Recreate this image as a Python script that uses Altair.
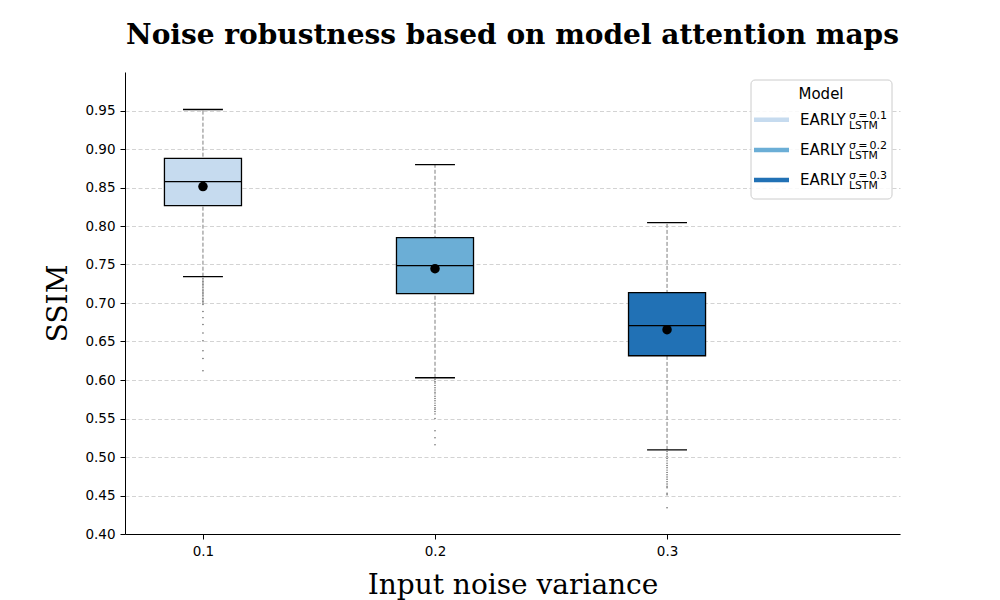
import altair as alt
import pandas as pd

# ---------------- data ----------------
noise = [0.1, 0.2, 0.3]
groups = ["s01", "s02", "s03"]
sigma_labels = ["σ\u2009=\u20090.1", "σ\u2009=\u20090.2", "σ\u2009=\u20090.3"]
colors = ["#c6dbef", "#6baed6", "#2171b5"]

q1 = [0.8265, 0.7121, 0.6315]
median = [0.8577, 0.7485, 0.6705]
q3 = [0.8877, 0.7849, 0.7134]
mean = [0.8512, 0.7446, 0.6653]
whisker_low = [0.7342, 0.6029, 0.5092]
whisker_high = [0.9513, 0.8798, 0.8044]

outliers_01 = [0.732, 0.730, 0.728, 0.726, 0.724, 0.722, 0.720, 0.718, 0.716,
               0.714, 0.712, 0.710, 0.708, 0.706, 0.704, 0.702, 0.700,
               0.698, 0.689, 0.681, 0.672, 0.661, 0.651, 0.638, 0.628, 0.612]
outliers_02 = [0.601, 0.598, 0.596, 0.593, 0.590, 0.587, 0.584, 0.582, 0.579,
               0.576, 0.573, 0.570, 0.567, 0.564, 0.562, 0.559,
               0.556, 0.550, 0.534, 0.525, 0.516]
outliers_03 = [0.507, 0.504, 0.501, 0.498, 0.495, 0.492, 0.489, 0.486, 0.483,
               0.480, 0.477, 0.474, 0.471, 0.468, 0.465, 0.462, 0.460,
               0.453, 0.451, 0.434]

y_ticks = [0.40, 0.45, 0.50, 0.55, 0.60, 0.65, 0.70, 0.75, 0.80, 0.85, 0.90, 0.95]

# ---------------- tables ----------------
stats = pd.DataFrame(dict(noise=noise, group=groups, q1=q1, median=median, q3=q3,
                          mean=mean, whisker_low=whisker_low, whisker_high=whisker_high))
out_rows = []
for n, vals in zip(noise, [outliers_01, outliers_02, outliers_03]):
    for v in vals:
        out_rows.append({"noise": n, "value": v})
out_df = pd.DataFrame(out_rows)

BOX_HALF = 0.0166
CAP_HALF = 0.0086

x_scale = alt.Scale(domain=[0.0664, 0.4004], nice=False, zero=False)
y_scale = alt.Scale(domain=[0.4, 1.0], nice=False, zero=False)

SERIF = "DejaVu Serif"
SANS = "DejaVu Sans"

x_axis = alt.Axis(values=noise, format=".1f", title="Input noise variance", grid=False,
                  titleFont=SERIF, titleFontSize=28, titleFontWeight="normal",
                  titleColor="black", titleBaseline="alphabetic", titleY=59,
                  labelFont=SANS, labelFontSize=13.5, labelColor="black", labelPadding=5,
                  tickSize=5, tickColor="black", domainColor="black", domainWidth=1)
y_axis = alt.Axis(values=y_ticks, format=".2f", title="SSIM", grid=True,
                  gridDash=[4, 2.5], gridColor="#c8c8c8", gridWidth=0.8,
                  titleFont=SERIF, titleFontSize=28, titleFontWeight="normal",
                  titleColor="black", titleAngle=270, titleBaseline="alphabetic",
                  titleAlign="center", titleX=-59, titleY=231,
                  labelFont=SANS, labelFontSize=13.5, labelColor="black", labelPadding=5,
                  tickSize=5, tickColor="black", domainColor="black", domainWidth=1)


def X(field):
    return alt.X(f"{field}:Q", scale=x_scale, axis=x_axis, title="Input noise variance")


def Y(field):
    return alt.Y(f"{field}:Q", scale=y_scale, axis=y_axis, title="SSIM")


base = alt.Chart(stats).transform_calculate(
    x_lo=f"datum.noise - {BOX_HALF}",
    x_hi=f"datum.noise + {BOX_HALF}",
    cap_lo=f"datum.noise - {CAP_HALF}",
    cap_hi=f"datum.noise + {CAP_HALF}",
)

whisker = base.mark_rule(color="#7f7f7f", strokeDash=[4, 2], strokeWidth=1).encode(
    x=X("noise"), y=Y("whisker_low"), y2="whisker_high")
outl = alt.Chart(out_df).mark_circle(size=2, color="#555555", opacity=1).encode(
    x=X("noise"), y=Y("value"))
box = base.mark_rect(stroke="black", strokeWidth=1.3).encode(
    x=X("x_lo"), x2="x_hi", y=Y("q1"), y2="q3",
    fill=alt.Fill("group:N", scale=alt.Scale(domain=groups, range=colors), legend=None))
med = base.mark_rule(color="black", strokeWidth=1.3).encode(
    x=X("x_lo"), x2="x_hi", y=Y("median"))
cap_l = base.mark_rule(color="black", strokeWidth=1.3).encode(
    x=X("cap_lo"), x2="cap_hi", y=Y("whisker_low"))
cap_h = base.mark_rule(color="black", strokeWidth=1.3).encode(
    x=X("cap_lo"), x2="cap_hi", y=Y("whisker_high"))
mean_pts = base.mark_point(filled=True, shape="circle", size=90, color="black", opacity=1).encode(
    x=X("noise"), y=Y("mean"))

# ---------------- custom legend (pixel layout) ----------------
one = pd.DataFrame({"k": [0]})
leg = [
    alt.Chart(one).mark_rect(fill="white", fillOpacity=0.85, stroke="#cccccc",
                             strokeWidth=1, cornerRadius=4).encode(
        x=alt.value(626), x2=alt.value(767), y=alt.value(8), y2=alt.value(127)),
    alt.Chart(one).mark_text(text="Model", font=SANS, fontSize=15, align="center",
                             baseline="alphabetic", color="black").encode(
        x=alt.value(696), y=alt.value(27)),
]
for i in range(3):
    dy = 30.2 * i
    leg.append(alt.Chart(one).mark_rule(color=colors[i], strokeWidth=4.5).encode(
        x=alt.value(629), x2=alt.value(664), y=alt.value(47.7 + dy)))
    leg.append(alt.Chart(one).mark_text(text="EARLY", font=SANS, fontSize=15, align="left",
                                        baseline="alphabetic", color="black").encode(
        x=alt.value(675), y=alt.value(53 + dy)))
    leg.append(alt.Chart(one).mark_text(text=sigma_labels[i], font=SANS, fontSize=11,
                                        align="left", baseline="alphabetic", color="black").encode(
        x=alt.value(724), y=alt.value(46.7 + dy)))
    leg.append(alt.Chart(one).mark_text(text="LSTM", font=SANS, fontSize=10.8, align="left",
                                        baseline="alphabetic", color="black").encode(
        x=alt.value(724), y=alt.value(56.7 + dy)))

chart = alt.layer(whisker, outl, box, med, cap_l, cap_h, mean_pts, *leg).properties(
    width=775, height=462,
    padding={"left": 117, "top": 64, "right": 70, "bottom": 66},
    autosize=alt.AutoSizeParams(type="none"),
    title=alt.TitleParams(text="Noise robustness based on model attention maps",
                          font=SERIF, fontSize=28, fontWeight="bold", anchor="middle",
                          frame="group", baseline="alphabetic", offset=0, color="black"),
).configure_view(strokeWidth=0)

chart.save("out.html", embed_options={"renderer": "svg", "actions": False})
